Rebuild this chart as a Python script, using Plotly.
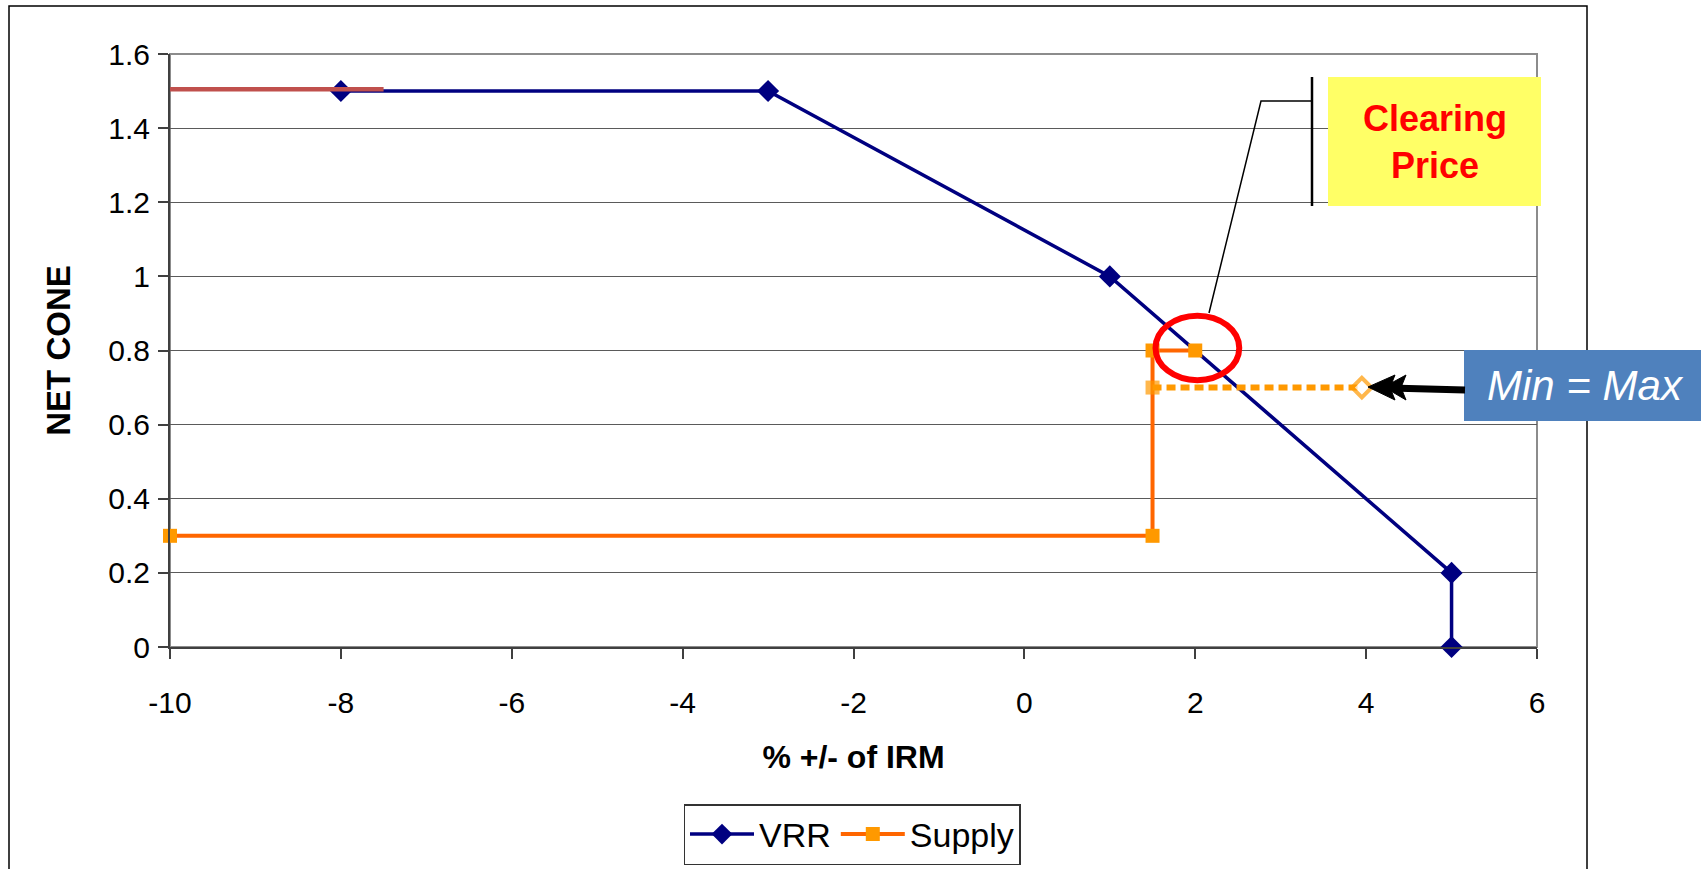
import plotly.graph_objects as go

# ---- data ----
vrr_x = [-8, -3, 1, 5, 5]
vrr_y = [1.5, 1.5, 1.0, 0.2, 0.0]

supply_x = [-10, 1.5, 1.5, 2]
supply_y = [0.3, 0.3, 0.8, 0.8]

minmax_x = [1.5, 3.95]
minmax_y = [0.7, 0.7]

cap_x = [-10, -7.5]
cap_y = [1.505, 1.505]

x_ticks = [-10, -8, -6, -4, -2, 0, 2, 4, 6]
y_ticks = [0, 0.2, 0.4, 0.6, 0.8, 1.0, 1.2, 1.4, 1.6]

FONT = "Arial, Liberation Sans, sans-serif"

# plot-area pixel geometry
L, R, T, B = 170, 1537, 54, 647
W, H = 1701, 869


def px(x):
    return (x - L) / (R - L)


def py(y):
    return (B - y) / (B - T)


fig = go.Figure()

fig.add_trace(go.Scatter(
    x=vrr_x, y=vrr_y, mode="lines+markers", name="VRR", cliponaxis=False,
    line=dict(color="#000080", width=3.5),
    marker=dict(symbol="diamond", size=17, color="#000080"),
))
fig.add_trace(go.Scatter(
    x=supply_x, y=supply_y, mode="lines+markers", name="Supply", cliponaxis=False,
    line=dict(color="#FF6600", width=4),
    marker=dict(symbol="square", size=14, color="#FF9900"),
))
fig.add_trace(go.Scatter(
    x=minmax_x, y=minmax_y, mode="lines+markers", showlegend=False, cliponaxis=False,
    line=dict(color="#FF9900", width=6, dash="9px,5px"),
    marker=dict(symbol=["square", "diamond"], size=[14, 15],
                color=["#FF9900", "white"],
                line=dict(color="#FF9900", width=[0, 4])),
))
fig.add_trace(go.Scatter(
    x=cap_x, y=cap_y, mode="lines", showlegend=False,
    line=dict(color="#C0504D", width=4.5),
))

shapes = []
# plot area border (gray)
shapes.append(dict(type="rect", xref="paper", yref="paper", x0=0, x1=1, y0=0, y1=1,
                   line=dict(color="#8c8c8c", width=2), layer="below"))
# outer chart border
shapes.append(dict(type="rect", xref="paper", yref="paper",
                   x0=px(9), x1=px(1587), y0=py(900), y1=py(6),
                   line=dict(color="black", width=1.5)))
# red ellipse around clearing point
cx, cy = 2.025, 0.807
shapes.append(dict(type="circle", xref="x", yref="y",
                   x0=cx - 0.49, x1=cx + 0.49, y0=cy - 0.087, y1=cy + 0.087,
                   line=dict(color="#FF0000", width=6)))
# callout leader
shapes.append(dict(type="path", xref="paper", yref="paper",
                   path=f"M {px(1209)} {py(313)} L {px(1261)} {py(101)} L {px(1312)} {py(101)}",
                   line=dict(color="black", width=1.5)))
shapes.append(dict(type="line", xref="paper", yref="paper",
                   x0=px(1312), x1=px(1312), y0=py(206), y1=py(77),
                   line=dict(color="black", width=2.5)))
# yellow box
shapes.append(dict(type="rect", xref="paper", yref="paper",
                   x0=px(1328), x1=px(1541), y0=py(206), y1=py(77),
                   fillcolor="#FFFF66", line=dict(width=0)))
# Min = Max box
shapes.append(dict(type="rect", xref="paper", yref="paper",
                   x0=px(1464), x1=px(1710), y0=py(421), y1=py(350),
                   fillcolor="#4F81BD", line=dict(width=0)))
# arrow
shapes.append(dict(type="line", xref="paper", yref="paper",
                   x0=px(1465), x1=px(1390), y0=py(390), y1=py(388),
                   line=dict(color="black", width=7)))
for tip, base in [(1368, 1395), (1384, 1406)]:
    shapes.append(dict(type="path", xref="paper", yref="paper",
                       path=f"M {px(tip)} {py(387)} L {px(base)} {py(375)} L {px(base - 5)} {py(387.5)} L {px(base)} {py(400)} Z",
                       fillcolor="black", line=dict(color="black", width=1)))

annotations = [
    dict(xref="paper", yref="paper", x=px(1434.5), y=py(142), text="<b>Clearing<br>Price</b>",
         showarrow=False, font=dict(family=FONT, size=36, color="#FF0000"),
         xanchor="center", yanchor="middle", align="center"),
    dict(xref="paper", yref="paper", x=px(1585), y=py(386), text="<i>Min = Max</i>",
         showarrow=False, font=dict(family=FONT, size=42, color="white"),
         xanchor="center", yanchor="middle"),
]

fig.update_layout(
    width=W, height=H,
    margin=dict(l=L, r=W - R, t=T, b=H - B, autoexpand=False),
    paper_bgcolor="white", plot_bgcolor="white",
    font=dict(family=FONT, color="black"),
    shapes=shapes, annotations=annotations,
    showlegend=True,
    legend=dict(orientation="h", x=852 / W, xref="container", y=(H - 804) / H, yref="container",
                xanchor="center", yanchor="top",
                bordercolor="#333333", borderwidth=1.5, bgcolor="white",
                font=dict(family=FONT, size=34), itemwidth=64, tracegroupgap=0),
)

fig.update_xaxes(
    range=[-10, 6], tickvals=x_ticks, ticktext=[str(v) for v in x_ticks],
    showgrid=False, zeroline=False,
    showline=True, linecolor="#404040", linewidth=2,
    ticks="outside", ticklen=10, tickcolor="#404040", tickwidth=1.5,
    ticklabelstandoff=18,
    tickfont=dict(family=FONT, size=30, color="black"),
    title=dict(text="<b>% +/- of IRM</b>", font=dict(family=FONT, size=32, color="black"), standoff=28),
)
fig.update_yaxes(
    range=[0, 1.6], tickvals=y_ticks, ticktext=["0", "0.2", "0.4", "0.6", "0.8", "1", "1.2", "1.4", "1.6"],
    showgrid=True, gridcolor="#5a5a5a", gridwidth=1.3, zeroline=False,
    showline=True, linecolor="#404040", linewidth=2,
    ticks="outside", ticklen=10, tickcolor="#404040", tickwidth=1.5,
    ticklabelstandoff=2,
    tickfont=dict(family=FONT, size=30, color="black"),
    title=dict(text="<b>NET CONE</b>", font=dict(family=FONT, size=33, color="black"), standoff=28),
)

fig.write_html("out.html")
